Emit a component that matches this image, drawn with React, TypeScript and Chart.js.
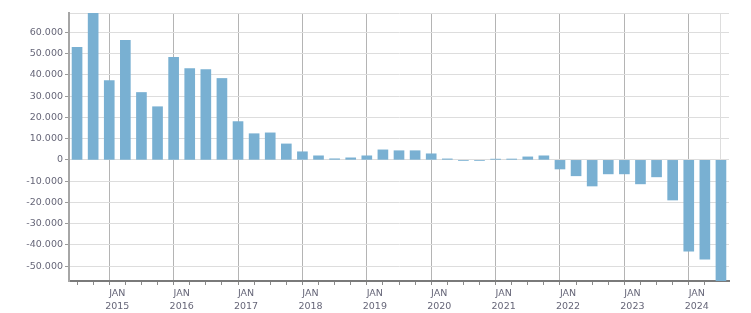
import React, { useEffect, useRef } from "react";
import { Chart, registerables } from "chart.js";

Chart.register(...registerables);

const quarters = [
  "2014-Q2", "2014-Q3", "2014-Q4",
  "2015-Q1", "2015-Q2", "2015-Q3", "2015-Q4",
  "2016-Q1", "2016-Q2", "2016-Q3", "2016-Q4",
  "2017-Q1", "2017-Q2", "2017-Q3", "2017-Q4",
  "2018-Q1", "2018-Q2", "2018-Q3", "2018-Q4",
  "2019-Q1", "2019-Q2", "2019-Q3", "2019-Q4",
  "2020-Q1", "2020-Q2", "2020-Q3", "2020-Q4",
  "2021-Q1", "2021-Q2", "2021-Q3", "2021-Q4",
  "2022-Q1", "2022-Q2", "2022-Q3", "2022-Q4",
  "2023-Q1", "2023-Q2", "2023-Q3", "2023-Q4",
  "2024-Q1", "2024-Q2",
];

const values = [
  52900, 69100, 37300,
  56200, 31700, 25000, 48200,
  43000, 42500, 38300, 18000,
  12300, 12700, 7500, 3800,
  1900, 500, 950, 1900,
  4700, 4300, 4300, 2850,
  450, -300, -300, 350,
  400, 1400, 1900, -4300,
  -7500, -12300, -6600, -6600,
  -11300, -8000, -18900, -43000,
  -46700, -57000,
];

const yTickValues = [-50000, -40000, -30000, -20000, -10000, 0, 10000, 20000, 30000, 40000, 50000, 60000];
const yMin = -57000;
const yMax = 69100;
const xMin = 2014.25;
const xMax = 2024.5;

const toX = (q: string) => {
  const [y, qq] = q.split("-Q");
  return Number(y) + (Number(qq) - 1) / 4 + 0.125;
};

const isYear = (v: number) => Math.abs(v - Math.round(v)) < 1e-6;

export default function App() {
  const ref = useRef<HTMLCanvasElement | null>(null);
  useEffect(() => {
    if (!ref.current) return;
    const font = { family: "'DejaVu Sans', Verdana, sans-serif", size: 9.5, lineHeight: 1.35 };
    const labelColor = "#666678";
    const chart = new Chart(ref.current, {
      type: "bar",
      data: {
        datasets: [
          {
            data: quarters.map((q, i) => ({ x: toX(q), y: values[i] })),
            backgroundColor: "#79b0d2",
            borderWidth: 0,
            barThickness: 10,
          },
        ],
      },
      options: {
        animation: false,
        responsive: false,
        layout: { padding: { top: 13, right: 22, left: 0, bottom: 0 } },
        plugins: { legend: { display: false }, tooltip: { enabled: false } },
        scales: {
          x: {
            type: "linear",
            offset: false,
            min: xMin,
            max: xMax,
            afterBuildTicks: (scale: any) => {
              const t = [];
              for (let v = xMin; v <= xMax + 1e-9; v += 0.25) t.push({ value: Math.round(v * 100) / 100 });
              scale.ticks = t;
            },
            afterFit: (scale: any) => {
              scale.height = 32;
            },
            ticks: {
              autoSkip: false,
              maxRotation: 0,
              minRotation: 0,
              padding: 2,
              color: labelColor,
              font,
              callback: (v: any) => (isYear(Number(v)) ? ["JAN", String(Math.round(Number(v)))] : ""),
            },
            grid: {
              drawTicks: true,
              tickLength: 4,
              color: (ctx: any) => {
                const v = ctx.tick ? ctx.tick.value : 0;
                if (Math.abs(v - xMax) < 1e-6) return "#dddddd";
                if (isYear(v)) return "#b4b4b4";
                return "rgba(0,0,0,0)";
              },
              tickColor: (ctx: any) => {
                const v = ctx.tick ? ctx.tick.value : 0;
                if (Math.abs(v - xMin) < 1e-6 || Math.abs(v - xMax) < 1e-6) return "rgba(0,0,0,0)";
                return "#8a8a8a";
              },
            },
            border: { display: true, color: "#7a7a7a", width: 2 },
          },
          y: {
            type: "linear",
            min: yMin,
            max: yMax,
            afterBuildTicks: (scale: any) => {
              scale.ticks = [yMin, ...yTickValues, yMax].map((v) => ({ value: v }));
            },
            afterFit: (scale: any) => {
              scale.width = 69;
            },
            ticks: {
              padding: 2,
              color: labelColor,
              font,
              callback: (v: any) => {
                const n = Number(v);
                if (n === yMin || n === yMax) return "";
                return n.toLocaleString("de-DE");
              },
            },
            grid: {
              tickLength: 4,
              color: (ctx: any) => {
                const v = ctx.tick ? ctx.tick.value : 0;
                if (v === yMin) return "rgba(0,0,0,0)";
                return "#dddddd";
              },
              tickColor: (ctx: any) => {
                const v = ctx.tick ? ctx.tick.value : 0;
                if (v === yMin || v === yMax) return "rgba(0,0,0,0)";
                return "#9a9a9a";
              },
            },
            border: { display: true, color: "#a6a6a6", width: 2 },
          },
        },
      },
    } as any);
    return () => chart.destroy();
  }, []);
  return (
    <div style={{ position: "fixed", left: 0, top: 0, width: 751, height: 313, background: "#fff" }}>
      <canvas ref={ref} width={751} height={313} style={{ display: "block" }} />
    </div>
  );
}
